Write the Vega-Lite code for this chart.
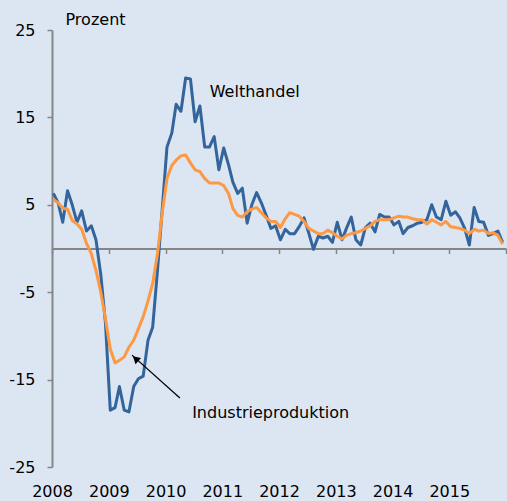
{
  "$schema": "https://vega.github.io/schema/vega-lite/v6.json",
  "width": 454,
  "height": 437,
  "autosize": "none",
  "padding": {"left": 52, "top": 30, "right": 1, "bottom": 34},
  "background": "#dce6f2",
  "config": {
    "view": {"stroke": null},
    "font": "DejaVu Sans",
    "axis": {"grid": false, "domainColor": "#868686", "tickColor": "#868686", "domainWidth": 2, "tickWidth": 1.5, "labelColor": "#000000", "labelFontSize": 16, "titleColor": "#000000"}
  },
  "datasets": {
    "series": [
      {"d":"2008-01-10","w":6.3,"i":5.6},{"d":"2008-02-10","w":5.2,"i":5.2},{"d":"2008-03-10","w":3.0,"i":4.6},{"d":"2008-04-10","w":6.6,"i":4.5},
      {"d":"2008-05-10","w":5.0,"i":3.2},{"d":"2008-06-10","w":3.0,"i":2.8},{"d":"2008-07-10","w":4.3,"i":2.2},{"d":"2008-08-10","w":2.0,"i":0.6},
      {"d":"2008-09-10","w":2.6,"i":-0.6},{"d":"2008-10-10","w":1.0,"i":-2.5},{"d":"2008-11-10","w":-3.0,"i":-5.0},{"d":"2008-12-10","w":-8.5,"i":-8.0},
      {"d":"2009-01-10","w":-18.5,"i":-11.5},{"d":"2009-02-10","w":-18.2,"i":-13.1},{"d":"2009-03-10","w":-15.8,"i":-12.8},{"d":"2009-04-10","w":-18.5,"i":-12.4},
      {"d":"2009-05-10","w":-18.7,"i":-11.3},{"d":"2009-06-10","w":-15.8,"i":-10.5},{"d":"2009-07-10","w":-14.9,"i":-9.2},{"d":"2009-08-10","w":-14.6,"i":-7.8},
      {"d":"2009-09-10","w":-10.5,"i":-6.0},{"d":"2009-10-10","w":-9.0,"i":-4.0},{"d":"2009-11-10","w":-2.5,"i":-0.6},{"d":"2009-12-10","w":4.4,"i":4.0},
      {"d":"2010-01-10","w":11.6,"i":8.0},{"d":"2010-02-10","w":13.2,"i":9.5},{"d":"2010-03-10","w":16.5,"i":10.1},{"d":"2010-04-10","w":15.7,"i":10.6},
      {"d":"2010-05-10","w":19.5,"i":10.7},{"d":"2010-06-10","w":19.4,"i":9.8},{"d":"2010-07-10","w":14.5,"i":9.0},{"d":"2010-08-10","w":16.3,"i":8.8},
      {"d":"2010-09-10","w":11.6,"i":8.0},{"d":"2010-10-10","w":11.6,"i":7.5},{"d":"2010-11-10","w":12.8,"i":7.5},{"d":"2010-12-10","w":9.0,"i":7.5},
      {"d":"2011-01-10","w":11.5,"i":7.2},{"d":"2011-02-10","w":9.6,"i":6.3},{"d":"2011-03-10","w":7.6,"i":4.6},{"d":"2011-04-10","w":6.3,"i":3.8},
      {"d":"2011-05-10","w":6.9,"i":3.6},{"d":"2011-06-10","w":2.9,"i":4.2},{"d":"2011-07-10","w":5.0,"i":4.5},{"d":"2011-08-10","w":6.4,"i":4.7},
      {"d":"2011-09-10","w":5.2,"i":4.1},{"d":"2011-10-10","w":3.8,"i":3.5},{"d":"2011-11-10","w":2.3,"i":3.1},{"d":"2011-12-10","w":2.6,"i":3.1},
      {"d":"2012-01-10","w":1.0,"i":2.4},{"d":"2012-02-10","w":2.2,"i":3.4},{"d":"2012-03-10","w":1.7,"i":4.1},{"d":"2012-04-10","w":1.7,"i":3.9},
      {"d":"2012-05-10","w":2.5,"i":3.7},{"d":"2012-06-10","w":3.5,"i":3.1},{"d":"2012-07-10","w":1.8,"i":2.3},{"d":"2012-08-10","w":-0.1,"i":2.0},
      {"d":"2012-09-10","w":1.4,"i":1.7},{"d":"2012-10-10","w":1.2,"i":1.7},{"d":"2012-11-10","w":1.4,"i":2.1},{"d":"2012-12-10","w":0.7,"i":1.8},
      {"d":"2013-01-10","w":3.0,"i":1.4},{"d":"2013-02-10","w":1.0,"i":1.1},{"d":"2013-03-10","w":2.3,"i":1.5},{"d":"2013-04-10","w":3.6,"i":1.7},
      {"d":"2013-05-10","w":1.0,"i":1.8},{"d":"2013-06-10","w":0.4,"i":2.0},{"d":"2013-07-10","w":2.4,"i":2.3},{"d":"2013-08-10","w":2.9,"i":2.6},
      {"d":"2013-09-10","w":1.9,"i":3.1},{"d":"2013-10-10","w":3.9,"i":3.3},{"d":"2013-11-10","w":3.6,"i":3.3},{"d":"2013-12-10","w":3.6,"i":3.3},
      {"d":"2014-01-10","w":2.7,"i":3.5},{"d":"2014-02-10","w":3.1,"i":3.7},{"d":"2014-03-10","w":1.7,"i":3.6},{"d":"2014-04-10","w":2.4,"i":3.6},
      {"d":"2014-05-10","w":2.6,"i":3.4},{"d":"2014-06-10","w":2.9,"i":3.3},{"d":"2014-07-10","w":3.0,"i":3.3},{"d":"2014-08-10","w":3.3,"i":2.8},
      {"d":"2014-09-10","w":5.0,"i":3.3},{"d":"2014-10-10","w":3.6,"i":3.0},{"d":"2014-11-10","w":3.3,"i":2.7},{"d":"2014-12-10","w":5.4,"i":3.1},
      {"d":"2015-01-10","w":3.8,"i":2.5},{"d":"2015-02-10","w":4.2,"i":2.4},{"d":"2015-03-10","w":3.5,"i":2.3},{"d":"2015-04-10","w":2.3,"i":2.1},
      {"d":"2015-05-10","w":0.4,"i":1.7},{"d":"2015-06-10","w":4.7,"i":2.2},{"d":"2015-07-10","w":3.1,"i":2.0},{"d":"2015-08-10","w":3.0,"i":2.1},
      {"d":"2015-09-10","w":1.5,"i":1.7},{"d":"2015-10-10","w":1.7,"i":1.8},{"d":"2015-11-10","w":2.0,"i":1.5},{"d":"2015-12-10","w":0.7,"i":0.5}
    ],
    "labels": [
      {"d":"2010-10-12","v":17.9,"t":"Welthandel"},
      {"d":"2010-06-21","v":-18.8,"t":"Industrieproduktion"}
    ],
    "arrow": [
      {"d":"2010-04-03","v":-17.1,"d2":"2009-05-30","v2":-12.2}
    ],
    "head": [
      {"d":"2009-06-22","v":-12.6}
    ]
  },
  "encoding": {
    "x": {
      "field": "d", "type": "temporal",
      "scale": {"type": "utc", "domain": [1199145600000, 1451606400000]},
      "axis": {
        "orient": "bottom", "offset": -218.5, "title": null,
        "values": [1199145600000,1230768000000,1262304000000,1293840000000,1325376000000,1356998400000,1388534400000,1420070400000,1451606400000],
        "labelExpr": "datum.value < 1451606400000 ? utcFormat(datum.value, '%Y') : ''",
        "tickSize": 5, "labelPadding": 230, "labelFlush": false, "labelOverlap": false
      }
    },
    "y": {
      "field": "v", "type": "quantitative",
      "scale": {"domain": [-25, 25], "nice": false, "zero": false},
      "axis": {
        "values": [-25, -15, -5, 5, 15, 25],
        "labelExpr": "'' + datum.value",
        "title": "Prozent", "titleAngle": 0, "titleAlign": "left", "titleBaseline": "middle",
        "titleX": 13, "titleY": -11, "titleFontSize": 16, "titleFontWeight": "normal",
        "tickSize": 5, "labelPadding": 12
      }
    }
  },
  "layer": [
    {
      "data": {"name": "series"},
      "transform": [{"fold": ["w"], "as": ["s", "v"]}],
      "mark": {"type": "line", "color": "#33649b", "strokeWidth": 3, "strokeJoin": "round"}
    },
    {
      "data": {"name": "series"},
      "transform": [{"fold": ["i"], "as": ["s", "v"]}],
      "mark": {"type": "line", "color": "#fd9843", "strokeWidth": 3, "strokeJoin": "round"}
    },
    {
      "data": {"name": "labels"},
      "mark": {"type": "text", "align": "left", "baseline": "middle", "fontSize": 16, "color": "#000000", "font": "DejaVu Sans"},
      "encoding": {"text": {"field": "t"}}
    },
    {
      "data": {"name": "arrow"},
      "mark": {"type": "rule", "color": "#000000", "strokeWidth": 1.3},
      "encoding": {"x2": {"field": "d2"}, "y2": {"field": "v2"}}
    },
    {
      "data": {"name": "head"},
      "mark": {"type": "point", "shape": "triangle-up", "filled": true, "color": "#000000", "size": 70, "angle": 312, "opacity": 1}
    }
  ]
}
